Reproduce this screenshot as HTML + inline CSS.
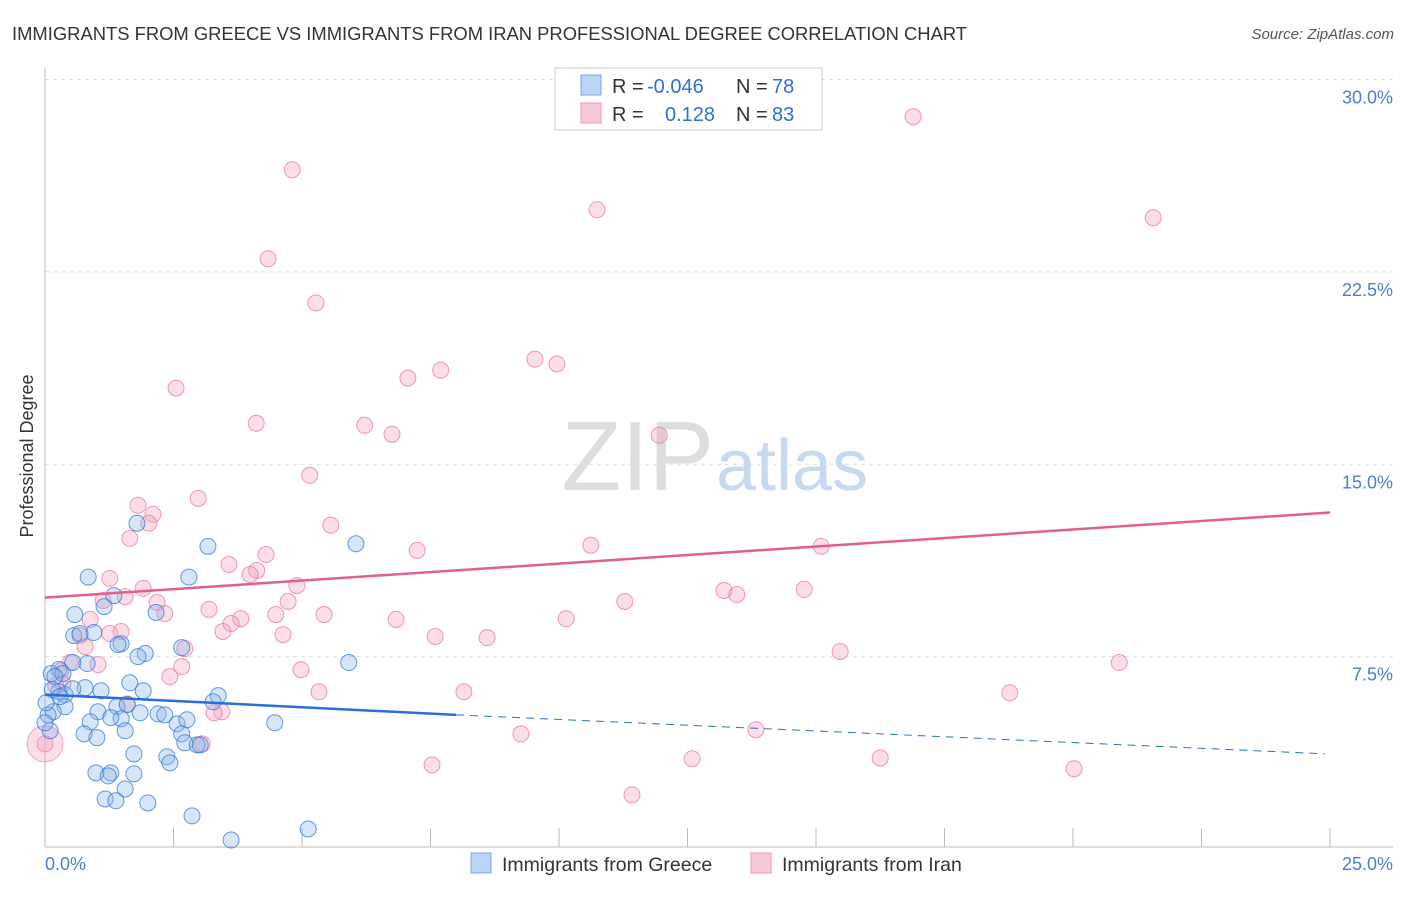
<!DOCTYPE html>
<html><head><meta charset="utf-8"><style>
body{margin:0;background:#fff;font-family:"Liberation Sans",sans-serif}
svg text{font-family:"Liberation Sans",sans-serif}
</style></head><body>
<svg width="1406" height="892">
<text x="12" y="40" font-size="18.4" fill="#333">IMMIGRANTS FROM GREECE VS IMMIGRANTS FROM IRAN PROFESSIONAL DEGREE CORRELATION CHART</text>
<text x="1394" y="39" font-size="15" fill="#555" text-anchor="end" font-style="italic">Source: ZipAtlas.com</text>
<g id="grid"></g>
<text x="714" y="490" font-size="98" fill="#ddd" text-anchor="end" font-family="Liberation Serif">ZIP</text>
<text x="716" y="490" font-size="72" fill="#c8daf0">atlas</text>
<line x1="45" y1="68" x2="45" y2="847" stroke="#bbb"/>
<line x1="45" y1="847" x2="1393" y2="847" stroke="#bbb"/>
<text x="33" y="456" font-size="18" fill="#333" text-anchor="middle" transform="rotate(-90 33 456)">Professional Degree</text>
<text x="45" y="870" font-size="18" fill="#4a7fd4">0.0%</text>
<text x="1393" y="870" font-size="18" fill="#4a7fd4" text-anchor="end">25.0%</text>
<g id="pts"></g>
<g id="lines"></g>
<rect x="555" y="68" width="267" height="62" fill="#fff" stroke="#ccc"/>
<rect x="581" y="75" width="20" height="20" fill="#bcd4f5" stroke="#7aa6e6"/>
<rect x="581" y="103" width="20" height="20" fill="#f9c8d6" stroke="#eb9ab4"/>
<text font-size="20" fill="#333"><tspan x="612" y="93">R = </tspan><tspan x="647" fill="#2f6fd4">-0.046</tspan><tspan x="736">N = </tspan><tspan x="772" fill="#2f6fd4">78</tspan></text>
<text font-size="20" fill="#333"><tspan x="612" y="121">R = </tspan><tspan x="665" fill="#2f6fd4">0.128</tspan><tspan x="736">N = </tspan><tspan x="772" fill="#2f6fd4">83</tspan></text>
<rect x="471" y="853" width="20" height="20" fill="#bcd4f5" stroke="#7aa6e6"/>
<text x="502" y="871" font-size="19.5" fill="#333">Immigrants from Greece</text>
<rect x="751" y="853" width="20" height="20" fill="#f9c8d6" stroke="#eb9ab4"/>
<text x="782" y="871" font-size="19.5" fill="#333">Immigrants from Iran</text>
</svg>
<script>
const yTicks=[7.5,15,22.5,30];
const yTickLabels=["7.5%","15.0%","22.5%","30.0%"];
const xTicks=[0,2.5,5,7.5,10,12.5,15,17.5,20,22.5,25];
const greeceX=[1.79,3.17,6.05,0.84,2.8,1.34,2.16,0.58,1.15,0.95,0.56,0.68,1.48,1.95,1.42,1.81,2.66,5.91,0.82,0.27,0.12,0.35,0.19,0.54,1.65,1.09,1.91,0.27,0.39,0.14,0.78,3.37,3.27,2.2,1.03,1.4,1.6,0.39,0.16,0.06,0.88,1.48,1.85,2.57,2.76,4.47,0.1,0.76,1.01,1.56,2.66,2.72,2.96,1.73,2.37,2.43,0.99,1.28,1.73,1.23,1.56,1.17,1.38,2.0,2.86,3.62,5.12,0.54,0.29,1.28,2.33,3.02,0.0,0.02];
const greeceY=[12.7,11.8,11.9,10.6,10.6,9.88,9.22,9.14,9.45,8.44,8.32,8.4,8.0,7.62,7.97,7.5,7.85,7.27,7.23,7.0,6.84,6.84,6.72,7.27,6.48,6.17,6.17,6.13,6.02,6.21,6.29,5.98,5.74,5.27,5.35,5.55,5.63,5.55,5.35,5.23,4.96,5.08,5.31,4.88,5.04,4.92,4.61,4.49,4.34,4.61,4.49,4.14,4.06,3.71,3.59,3.36,2.97,2.97,2.93,2.85,2.34,1.95,1.88,1.8,1.29,0.35,0.78,6.25,5.94,5.12,5.23,4.06,4.92,5.7];
const iranX=[16.89,4.81,10.74,21.56,4.34,5.27,9.53,9.96,7.06,7.7,2.55,4.11,6.22,6.75,11.95,5.15,2.98,1.81,2.1,2.02,5.56,1.65,10.62,7.24,15.1,4.3,3.58,4.12,3.99,4.9,1.26,1.91,13.21,13.46,14.77,1.56,2.18,1.13,4.73,3.19,4.49,5.43,2.33,0.88,6.83,10.14,11.28,3.81,3.62,1.48,0.68,3.46,4.63,7.59,8.6,15.47,2.72,1.03,0.49,0.31,4.98,2.66,2.43,20.9,5.33,8.15,18.77,0.21,0.35,3.44,3.29,1.6,9.26,13.83,3.06,12.59,16.25,7.53,20.02,11.42,0.0,1.26,0.78];
const iranY=[28.55,26.48,24.92,24.61,23.01,21.29,19.1,18.91,18.36,18.67,17.97,16.6,16.52,16.17,16.13,14.57,13.67,13.4,13.05,12.7,12.62,12.11,11.84,11.64,11.8,11.48,11.09,10.86,10.7,10.27,10.55,10.16,10.08,9.92,10.12,9.84,9.61,9.69,9.65,9.34,9.14,9.14,9.18,8.95,8.95,8.98,9.65,8.98,8.79,8.48,8.32,8.48,8.36,8.28,8.24,7.7,7.81,7.19,7.27,6.95,6.99,7.11,6.72,7.27,6.13,6.13,6.09,6.37,6.45,5.35,5.31,5.66,4.49,4.65,4.1,3.52,3.55,3.28,3.13,2.11,4.1,8.4,7.89];
const greeceTrend=[[0,6.02],[8.0,5.23],[24.9,3.71]];
const iranTrend=[[0,9.8],[25,13.12]];
const sx=v=>45+v*51.4, sy=v=>849-v*25.65;
const NS="http://www.w3.org/2000/svg";
function mk(t,a,p){const e=document.createElementNS(NS,t);for(const k in a)e.setAttribute(k,a[k]);p.appendChild(e);return e;}
const grid=document.getElementById('grid');
yTicks.forEach((v,i)=>{
 const l=mk('line',{x1:45,x2:1393,y1:sy(v),y2:sy(v),stroke:'#ddd','stroke-dasharray':'4 4'},grid);
 
 
 const t=mk('text',{x:1393,y:sy(v)+24,'font-size':18,fill:'#4a7fd4','text-anchor':'end'},grid);
 t.textContent=yTickLabels[i];
 
 
});
xTicks.forEach(v=>{
 const l=mk('line',{x1:sx(v),x2:sx(v),y1:828,y2:847,stroke:'#bbb'},grid);
 
 
});
const pts=document.getElementById('pts');
iranX.forEach((x,i)=>{
 const c=mk('circle',{cx:sx(x),cy:sy(iranY[i]),r:8,fill:'rgba(244,160,188,0.35)',stroke:'rgba(232,120,160,0.75)','stroke-width':1},pts);
 
 
});
const big=mk('circle',{cx:sx(0),cy:sy(4.1),r:18,fill:'rgba(244,160,188,0.35)',stroke:'rgba(232,120,160,0.6)'},pts);


greeceX.forEach((x,i)=>{
 const c=mk('circle',{cx:sx(x),cy:sy(greeceY[i]),r:8,fill:'rgba(140,180,235,0.35)',stroke:'rgba(50,120,215,0.75)','stroke-width':1},pts);
 
 
});
const lines=document.getElementById('lines');
let g=greeceTrend;
let a=mk('line',{x1:sx(g[0][0]),y1:sy(g[0][1]),x2:sx(g[1][0]),y2:sy(g[1][1]),stroke:'#2a6fd6','stroke-width':2.5},lines);


let b=mk('line',{x1:sx(g[1][0]),y1:sy(g[1][1]),x2:sx(g[2][0]),y2:sy(g[2][1]),stroke:'#2a6fd6','stroke-width':1,'stroke-dasharray':'8 6'},lines);


let c=mk('line',{x1:sx(iranTrend[0][0]),y1:sy(iranTrend[0][1]),x2:sx(iranTrend[1][0]),y2:sy(iranTrend[1][1]),stroke:'#e0608a','stroke-width':2.5},lines);


</script>
</body></html>
